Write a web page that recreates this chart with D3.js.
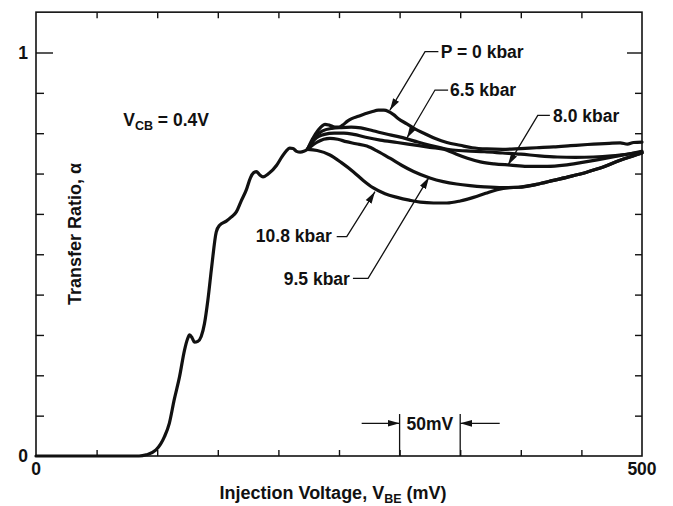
<!DOCTYPE html>
<html>
<head>
<meta charset="utf-8">
<script src="https://cdn.jsdelivr.net/npm/d3@7"></script>
<style>
  body { margin: 0; background: #fff; }
  text { font-family: "Liberation Sans", Arial, Helvetica, sans-serif; font-weight: bold; fill: #111; }
</style>
</head>
<body>
<div id="chart"></div>
<script>
// Injection voltage (mV) and transfer ratio alpha.
// Shared rise, before the curves split by pressure
var commonCurve = [
  [0, 0], [60, 0], [85, 0], [91, 0.003], [99, 0.015], [106, 0.048], [110, 0.081],
  [114, 0.139], [118.4, 0.196], [122.5, 0.262], [125, 0.29], [126.7, 0.30], [128.8, 0.293],
  [130.8, 0.282], [133.5, 0.284], [136.3, 0.296], [139, 0.328], [141.8, 0.386], [145, 0.47],
  [148.7, 0.555], [151.5, 0.572], [157, 0.582], [161, 0.592], [165.3, 0.605], [169, 0.63],
  [173.6, 0.66], [177, 0.69], [179.5, 0.702], [181.8, 0.705], [184.5, 0.697], [187.3, 0.692],
  [192, 0.700], [198.4, 0.720], [203, 0.742], [206.7, 0.757], [209.4, 0.763], [212, 0.762],
  [215, 0.755], [218, 0.753], [221, 0.755], [224, 0.760]
];

var curveP0 = [
  [224, 0.760], [228, 0.785], [232.9, 0.808], [236, 0.818], [238.4, 0.822], [242, 0.820],
  [246.7, 0.815], [250, 0.815], [253, 0.820], [257, 0.830], [260.5, 0.836], [266, 0.842],
  [271.5, 0.848], [277, 0.853], [282.5, 0.857], [287, 0.857], [290.8, 0.854], [295, 0.846],
  [299, 0.836], [306, 0.823], [313, 0.810], [320, 0.800], [330, 0.786], [339, 0.777],
  [350, 0.770], [360, 0.764], [372, 0.761], [385, 0.760], [400, 0.762], [413, 0.764],
  [427, 0.766], [441, 0.769], [455, 0.772], [473, 0.775], [482, 0.776], [488, 0.773],
  [493, 0.777], [500, 0.778]
];

var curve65 = [
  [224, 0.760], [230, 0.790], [236, 0.805], [244, 0.812], [252, 0.814], [260, 0.815],
  [268, 0.813], [278, 0.806], [289, 0.798], [298, 0.792], [306, 0.786], [315, 0.778],
  [325, 0.770], [335, 0.763], [342, 0.759], [355, 0.756], [370, 0.754], [385, 0.751],
  [400, 0.748], [415, 0.744], [430, 0.741], [445, 0.740], [460, 0.741], [475, 0.744],
  [490, 0.749], [500, 0.753]
];

var curve80 = [
  [224, 0.760], [230, 0.785], [238, 0.797], [246, 0.800], [254, 0.800], [262, 0.797],
  [272, 0.790], [284, 0.783], [298, 0.777], [311.5, 0.771], [325, 0.765], [339, 0.758],
  [347, 0.748], [356, 0.738], [366.6, 0.729], [378, 0.724], [391.5, 0.721], [405, 0.718],
  [422, 0.718], [436, 0.721], [449.5, 0.727], [463, 0.734], [477, 0.742], [490, 0.749],
  [500, 0.755]
];

var curve95 = [
  [224, 0.760], [232, 0.778], [242.5, 0.787], [249, 0.785], [256, 0.779], [264, 0.774],
  [273, 0.768], [282, 0.755], [292, 0.738], [302, 0.720], [311.5, 0.705], [325, 0.689],
  [336, 0.680], [347, 0.674], [358, 0.670], [370, 0.667], [385, 0.665], [398, 0.666],
  [413, 0.673], [427, 0.683], [441, 0.693], [455, 0.704], [468, 0.716], [482, 0.733],
  [492, 0.743], [500, 0.751]
];

var curve108 = [
  [224, 0.760], [232, 0.757], [242.5, 0.746], [252, 0.727], [262, 0.704], [270, 0.683],
  [278, 0.665], [288, 0.650], [298, 0.641], [308, 0.634], [317, 0.629], [328, 0.627],
  [339, 0.627], [350, 0.632], [361, 0.641], [371, 0.651], [380.5, 0.660], [390, 0.665],
  [398, 0.666], [413, 0.673], [427, 0.683], [441, 0.693], [455, 0.704], [468, 0.716],
  [482, 0.733], [492, 0.743], [500, 0.751]
];

var pressureLabels = ["P = 0 kbar", "6.5 kbar", "8.0 kbar", "9.5 kbar", "10.8 kbar"];
var xTickLabels = ["0", "500"];
var yTickLabels = ["0", "1"];

var svgWidth = 673;
var svgHeight = 506;
var fontSize = "17.5px";

var svg = d3.select("#chart")
  .append("svg")
  .attr("width", svgWidth)
  .attr("height", svgHeight);

svg.append("rect")
  .attr("width", svgWidth)
  .attr("height", svgHeight)
  .attr("fill", "#fff");

// Scales: frame spans 0..500 mV and 0..1.1
var xScale = d3.scaleLinear()
  .domain([0, 500])
  .range([36, 642]);

var yScale = d3.scaleLinear()
  .domain([0, 1.1])
  .range([456, 456 - 1.1 * 403.5]);

var defs = svg.append("defs");
defs.append("marker")
  .attr("id", "head")
  .attr("markerUnits", "userSpaceOnUse")
  .attr("viewBox", "0 0 12 8")
  .attr("markerWidth", 12)
  .attr("markerHeight", 8)
  .attr("refX", 12)
  .attr("refY", 4)
  .attr("orient", "auto")
  .append("path")
  .attr("d", "M0,0.6 L12,4 L0,7.4 Z")
  .attr("fill", "#111");

// Ticks, all pointing into the frame
var minorX = d3.range(50, 500, 50);
var minorY = d3.range(1, 10).map(d => d / 10);

svg.append("g")
  .attr("transform", `translate(0, ${yScale(0)})`)
  .call(d3.axisBottom(xScale).tickValues(minorX).tickSize(-6).tickFormat(""))
  .call(g => g.select(".domain").remove());

svg.append("g")
  .attr("transform", `translate(0, ${yScale(1.1)})`)
  .call(d3.axisTop(xScale).tickValues(minorX).tickSize(-6).tickFormat(""))
  .call(g => g.select(".domain").remove());

svg.append("g")
  .attr("transform", `translate(${xScale(0)}, 0)`)
  .call(d3.axisLeft(yScale).tickValues(minorY).tickSize(-8).tickFormat(""))
  .call(g => g.select(".domain").remove());

svg.append("g")
  .attr("transform", `translate(${xScale(0)}, 0)`)
  .call(d3.axisLeft(yScale).tickValues([1]).tickSize(-17).tickFormat(""))
  .call(g => g.select(".domain").remove());

svg.append("g")
  .attr("transform", `translate(${xScale(500)}, 0)`)
  .call(d3.axisRight(yScale).tickValues(minorY).tickSize(-7).tickFormat(""))
  .call(g => g.select(".domain").remove());

svg.append("g")
  .attr("transform", `translate(${xScale(500)}, 0)`)
  .call(d3.axisRight(yScale).tickValues([1]).tickSize(-15).tickFormat(""))
  .call(g => g.select(".domain").remove());

svg.selectAll(".tick line")
  .attr("stroke", "#111")
  .attr("stroke-width", 1.4);

// Frame
svg.append("rect")
  .attr("x", xScale(0))
  .attr("y", yScale(1.1))
  .attr("width", xScale(500) - xScale(0))
  .attr("height", yScale(0) - yScale(1.1))
  .attr("fill", "none")
  .attr("stroke", "#111")
  .attr("stroke-width", 1.6);

// Tick labels
svg.selectAll(".xlab")
  .data(xTickLabels)
  .enter()
  .append("text")
  .attr("x", d => xScale(+d))
  .attr("y", yScale(0) + 19)
  .attr("text-anchor", "middle")
  .attr("font-size", fontSize)
  .text(d => d);

svg.selectAll(".ylab")
  .data(yTickLabels)
  .enter()
  .append("text")
  .attr("x", xScale(0) - 8)
  .attr("y", d => yScale(+d) + 6)
  .attr("text-anchor", "end")
  .attr("font-size", fontSize)
  .text(d => d);

// Axis titles
var xTitle = svg.append("text")
  .attr("x", 333)
  .attr("y", 499)
  .attr("text-anchor", "middle")
  .attr("font-size", "18px");
xTitle.append("tspan").text("Injection Voltage, V");
xTitle.append("tspan").attr("font-size", "12.5px").attr("dy", 4).text("BE");
xTitle.append("tspan").attr("dy", -4).text(" (mV)");

svg.append("text")
  .attr("transform", `translate(81, ${yScale(0.55)}) rotate(-90)`)
  .attr("text-anchor", "middle")
  .attr("font-size", "18px")
  .text("Transfer Ratio, \u03b1");

// Curves
var line = d3.line()
  .x(d => xScale(d[0]))
  .y(d => yScale(d[1]))
  .curve(d3.curveMonotoneX);

var allCurves = [commonCurve, curveP0, curve65, curve80, curve95, curve108];
svg.selectAll(".curve")
  .data(allCurves)
  .enter()
  .append("path")
  .attr("class", "curve")
  .attr("d", line)
  .attr("fill", "none")
  .attr("stroke", "#111")
  .attr("stroke-width", 3.2)
  .attr("stroke-linejoin", "round")
  .attr("stroke-linecap", "round");

// V_CB label
var vcb = svg.append("text")
  .attr("x", xScale(72))
  .attr("y", yScale(0.818))
  .attr("font-size", fontSize);
vcb.append("tspan").text("V");
vcb.append("tspan").attr("font-size", "12.5px").attr("dy", 4).text("CB");
vcb.append("tspan").attr("dy", -4).text(" = 0.4V");

// Pressure labels with leader arrows (positions in mV / alpha)
var labelPlacement = [
  { text: pressureLabels[0], tx: 334, ty: 0.986, anchor: "start", start: [332, 1.002], bend: [321, 1.002], tip: [292, 0.857] },
  { text: pressureLabels[1], tx: 341.6, ty: 0.891, anchor: "start", start: [340, 0.907], bend: [329.2, 0.907], tip: [306, 0.788] },
  { text: pressureLabels[2], tx: 426.6, ty: 0.828, anchor: "start", start: [424, 0.844], bend: [414, 0.844], tip: [389.4, 0.721] },
  { text: pressureLabels[3], tx: 259, ty: 0.424, anchor: "end", start: [261.5, 0.440], bend: [274, 0.440], tip: [324.3, 0.691] },
  { text: pressureLabels[4], tx: 244, ty: 0.531, anchor: "end", start: [248.1, 0.5435], bend: [256.4, 0.5435], tip: [279.7, 0.655] }
];

labelPlacement.forEach(function(lab) {
  svg.append("text")
    .attr("x", xScale(lab.tx))
    .attr("y", yScale(lab.ty))
    .attr("text-anchor", lab.anchor)
    .attr("font-size", fontSize)
    .text(lab.text);
  svg.append("path")
    .attr("d", d3.line()([lab.start, lab.bend, lab.tip].map(p => [xScale(p[0]), yScale(p[1])])))
    .attr("fill", "none")
    .attr("stroke", "#111")
    .attr("stroke-width", 1.3)
    .attr("marker-end", "url(#head)");
});

// 50 mV scale marker
[300, 350].forEach(function(v) {
  svg.append("line")
    .attr("x1", xScale(v)).attr("x2", xScale(v))
    .attr("y1", yScale(0)).attr("y2", yScale(0.104))
    .attr("stroke", "#111")
    .attr("stroke-width", 1.3);
});

svg.append("line")
  .attr("x1", xScale(268.7)).attr("x2", xScale(300))
  .attr("y1", yScale(0.081)).attr("y2", yScale(0.081))
  .attr("stroke", "#111").attr("stroke-width", 1.3)
  .attr("marker-end", "url(#head)");

svg.append("line")
  .attr("x1", xScale(382.6)).attr("x2", xScale(350))
  .attr("y1", yScale(0.081)).attr("y2", yScale(0.081))
  .attr("stroke", "#111").attr("stroke-width", 1.3)
  .attr("marker-end", "url(#head)");

svg.append("text")
  .attr("x", xScale(325))
  .attr("y", yScale(0.064))
  .attr("text-anchor", "middle")
  .attr("font-size", fontSize)
  .text("50mV");
</script>
</body>
</html>
